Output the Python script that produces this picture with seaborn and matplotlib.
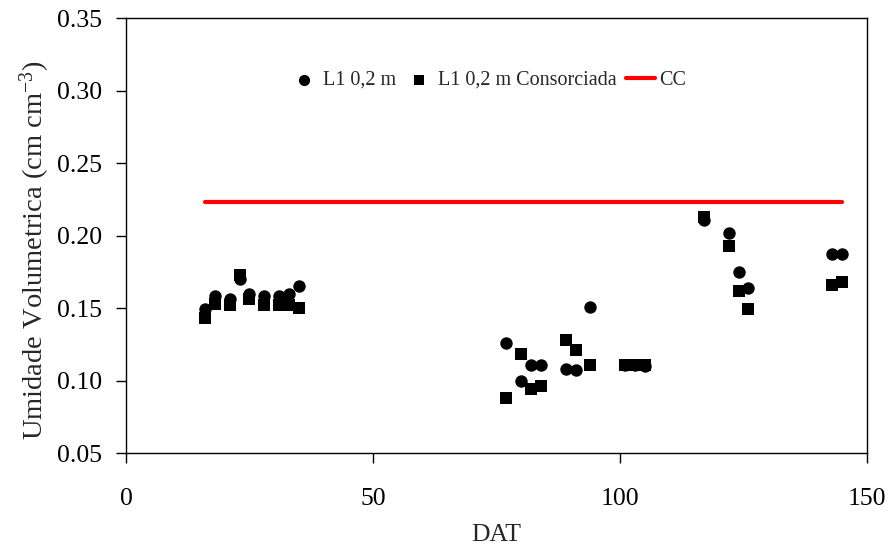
import matplotlib
matplotlib.use("Agg")
import matplotlib.pyplot as plt
import seaborn as sns
import pandas as pd

# Data
dat = [16, 18, 21, 23, 25, 28, 31, 33, 35,
       77, 80, 82, 84, 89, 91, 94,
       101, 103, 105,
       117, 122, 124, 126,
       143, 145]
l1 = [0.149, 0.158, 0.156, 0.170, 0.160, 0.158, 0.158, 0.160, 0.165,
      0.126, 0.100, 0.111, 0.111, 0.108, 0.107, 0.151,
      0.111, 0.111, 0.110,
      0.211, 0.202, 0.175, 0.164,
      0.187, 0.187]
l1_cons = [0.143, 0.153, 0.152, 0.173, 0.156, 0.152, 0.152, 0.152, 0.150,
           0.088, 0.118, 0.094, 0.096, 0.128, 0.121, 0.111,
           0.111, 0.111, 0.111,
           0.213, 0.193, 0.162, 0.149,
           0.166, 0.168]
cc_x = [16, 145]
cc_y = [0.223, 0.223]

xticks = [0, 50, 100, 150]
yticks = [0.05, 0.10, 0.15, 0.20, 0.25, 0.30, 0.35]
yticklabels = ["0.05", "0.10", "0.15", "0.20", "0.25", "0.30", "0.35"]

sns.set_style("ticks")
plt.rcParams['font.family'] = ['Liberation Serif', 'DejaVu Serif']
plt.rcParams['mathtext.fontset'] = 'custom'
plt.rcParams['mathtext.rm'] = 'Liberation Serif'
plt.rcParams['mathtext.it'] = 'Liberation Serif'

df1 = pd.DataFrame({"DAT": dat, "val": l1})
df2 = pd.DataFrame({"DAT": dat, "val": l1_cons})
dfc = pd.DataFrame({"DAT": cc_x, "val": cc_y})

fig = plt.figure(figsize=(8.89, 5.54), dpi=100)
ax = fig.add_axes([0.1417, 0.1823, 0.8336, 0.7852])

sns.scatterplot(data=df1, x="DAT", y="val", ax=ax, marker="o", s=80,
                color="black", edgecolor="black", linewidth=0, label="L1 0,2 m")
sns.scatterplot(data=df2, x="DAT", y="val", ax=ax, marker="s", s=75,
                color="black", edgecolor="black", linewidth=0,
                label="L1 0,2 m Consorciada")
sns.lineplot(data=dfc, x="DAT", y="val", ax=ax, color="#ff0000", linewidth=3,
             label="CC")

ax.set_xlim(0, 150)
ax.set_ylim(0.05, 0.35)
ax.set_xticks(xticks)
ax.set_yticks(yticks)
ax.set_yticklabels(yticklabels)
ax.tick_params(axis="both", direction="out", length=7, width=1, labelsize=18.5,
               color="black", labelcolor="black")
ax.tick_params(axis="x", pad=18)
ax.tick_params(axis="y", pad=10.5)
for sp in ax.spines.values():
    sp.set_visible(True)
    sp.set_color("black")
    sp.set_linewidth(1)

ax.set_xlabel("DAT", fontsize=18.5, labelpad=10)
ax.set_ylabel("Umidade Volumetrica (cm cm$^{\\mathregular{-3}}$)", fontsize=20.5)
ax.yaxis.set_label_coords(-0.100, 0.467)

leg = ax.legend(loc="upper center", bbox_to_anchor=(0.488, 0.92), ncol=3,
                frameon=False, fontsize=14.5, handlelength=1.45,
                handletextpad=0.2, columnspacing=0.45, markerscale=0.9)

fig.savefig("out.png", dpi=100)
